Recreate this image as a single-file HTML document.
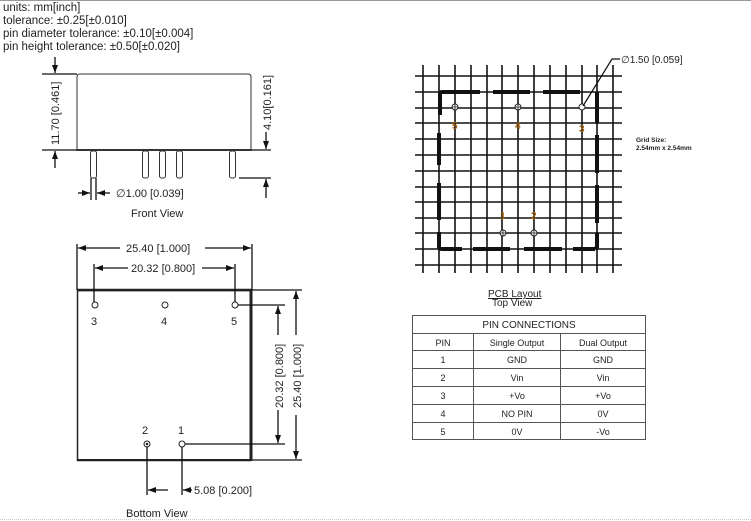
<!DOCTYPE html>
<html><head><meta charset="utf-8"><style>
html,body{margin:0;padding:0;background:#fff;}
svg{display:block;}
text{font-family:"Liberation Sans","DejaVu Sans",sans-serif;fill:#222;}
</style></head><body>
<svg width="751" height="521" viewBox="0 0 751 521" xmlns="http://www.w3.org/2000/svg">
<defs>
<marker id="ar" markerWidth="8" markerHeight="6" refX="8" refY="3" orient="auto" markerUnits="userSpaceOnUse"><path d="M0,0 L8,3 L0,6 z" fill="#111"/></marker>
</defs>
<line x1="0" y1="0.5" x2="751" y2="0.5" stroke="#999" stroke-width="1"/>
<line x1="0" y1="519.5" x2="751" y2="519.5" stroke="#ccc" stroke-width="1" stroke-dasharray="1,1"/>
<g font-size="11.5">
<text x="3" y="11">units: mm[inch]</text>
<text x="3" y="24">tolerance: ±0.25[±0.010]</text>
<text x="3" y="37">pin diameter tolerance: ±0.10[±0.004]</text>
<text x="3" y="50">pin height tolerance: ±0.50[±0.020]</text>
</g>

<!-- Front view -->
<g stroke="#333" fill="none">
<path d="M77,150 L77,77 Q77,74 80,74 L248,74 Q251,74 251,77 L251,150" stroke-width="1"/>
<line x1="76" y1="150" x2="252" y2="150" stroke-width="2"/>
<rect x="90.5" y="151" width="6" height="27" rx="2" stroke-width="1"/>
<rect x="142.5" y="151" width="6" height="27" rx="2"/>
<rect x="159.5" y="151" width="6" height="27" rx="2"/>
<rect x="176.5" y="151" width="6" height="27" rx="2"/>
<rect x="229.5" y="151" width="6" height="27" rx="2"/>
</g>
<g stroke="#111" stroke-width="1.3" fill="none">
<line x1="42" y1="74" x2="77" y2="74"/>
<line x1="42" y1="150" x2="76" y2="150"/>
<line x1="55" y1="57" x2="55" y2="73" marker-end="url(#ar)"/>
<line x1="55" y1="168" x2="55" y2="151" marker-end="url(#ar)"/>
<line x1="252" y1="150" x2="271" y2="150"/>
<line x1="239" y1="178" x2="271" y2="178"/>
<line x1="266" y1="132" x2="266" y2="149" marker-end="url(#ar)"/>
<line x1="266" y1="198" x2="266" y2="179" marker-end="url(#ar)"/>
<line x1="91" y1="178" x2="91" y2="200"/>
<line x1="96" y1="178" x2="96" y2="200"/>
<line x1="78" y1="193" x2="90" y2="193" marker-end="url(#ar)"/>
<line x1="110" y1="193" x2="97" y2="193" marker-end="url(#ar)"/>
</g>
<text x="0" y="0" font-size="11" transform="translate(59,145) rotate(-90)">11.70 [0.461]</text>
<text x="0" y="0" font-size="11" transform="translate(271,130) rotate(-90)">4.10[0.161]</text>
<text x="116" y="197" font-size="11">∅1.00 [0.039]</text>
<text x="131" y="217" font-size="11">Front View</text>

<!-- Bottom view -->
<g stroke="#222" fill="none">
<rect x="77.5" y="290.5" width="173" height="170" stroke-width="1.5"/>
<line x1="77" y1="290" x2="252" y2="290" stroke-width="2.5"/>
<line x1="251" y1="290" x2="251" y2="461" stroke-width="3"/>
<line x1="77" y1="460" x2="252" y2="460" stroke-width="2"/>
<circle cx="95" cy="305" r="3" stroke-width="1"/>
<circle cx="165" cy="305" r="3"/>
<circle cx="235" cy="305" r="3"/>
<circle cx="147" cy="444" r="3"/>
<circle cx="147" cy="444" r="0.8" fill="#222"/>
<circle cx="182" cy="444" r="3"/>
</g>
<g stroke="#111" stroke-width="1.3" fill="none">
<line x1="77" y1="244" x2="77" y2="290"/>
<line x1="252" y1="244" x2="252" y2="290"/>
<line x1="120" y1="248" x2="78" y2="248" marker-end="url(#ar)"/>
<line x1="205" y1="248" x2="251" y2="248" marker-end="url(#ar)"/>
<line x1="94" y1="264" x2="94" y2="302"/>
<line x1="235" y1="264" x2="235" y2="302"/>
<line x1="128" y1="268" x2="95" y2="268" marker-end="url(#ar)"/>
<line x1="202" y1="268" x2="234" y2="268" marker-end="url(#ar)"/>
<line x1="238" y1="305" x2="285" y2="305"/>
<line x1="185" y1="444" x2="285" y2="444"/>
<line x1="252" y1="290" x2="302" y2="290"/>
<line x1="252" y1="460" x2="302" y2="460"/>
<line x1="278" y1="335" x2="278" y2="306" marker-end="url(#ar)"/>
<line x1="278" y1="410" x2="278" y2="443" marker-end="url(#ar)"/>
<line x1="296" y1="335" x2="296" y2="291" marker-end="url(#ar)"/>
<line x1="296" y1="415" x2="296" y2="459" marker-end="url(#ar)"/>
<line x1="147" y1="447" x2="147" y2="495"/>
<line x1="182" y1="447" x2="182" y2="495"/>
<line x1="168" y1="490" x2="148" y2="490" marker-end="url(#ar)"/>
<line x1="192" y1="490" x2="183" y2="490" marker-end="url(#ar)"/>
</g>
<g font-size="11">
<text x="126" y="252">25.40 [1.000]</text>
<text x="131" y="272">20.32 [0.800]</text>
<text x="91" y="325">3</text>
<text x="161" y="325">4</text>
<text x="231" y="325">5</text>
<text x="142" y="434">2</text>
<text x="178" y="434">1</text>
<text x="194" y="494">5.08 [0.200]</text>
<text x="126" y="517">Bottom View</text>
<text x="0" y="0" transform="translate(283,408) rotate(-90)">20.32 [0.800]</text>
<text x="0" y="0" transform="translate(301,408) rotate(-90)">25.40 [1.000]</text>
</g>

<!-- PCB layout grid -->
<g stroke="#111" stroke-width="1.6">
<line x1="423" y1="65" x2="423" y2="273"/><line x1="439" y1="65" x2="439" y2="273"/>
<line x1="455" y1="65" x2="455" y2="273"/><line x1="471" y1="65" x2="471" y2="273"/>
<line x1="487" y1="65" x2="487" y2="273"/><line x1="502" y1="65" x2="502" y2="273"/>
<line x1="518" y1="65" x2="518" y2="273"/><line x1="534" y1="65" x2="534" y2="273"/>
<line x1="550" y1="65" x2="550" y2="273"/><line x1="566" y1="65" x2="566" y2="273"/>
<line x1="582" y1="65" x2="582" y2="273"/><line x1="597" y1="65" x2="597" y2="273"/>
<line x1="613" y1="65" x2="613" y2="273"/>
<line x1="415" y1="76" x2="622" y2="76"/><line x1="415" y1="92" x2="622" y2="92"/>
<line x1="415" y1="108" x2="622" y2="108"/><line x1="415" y1="123" x2="622" y2="123"/>
<line x1="415" y1="139" x2="622" y2="139"/><line x1="415" y1="155" x2="622" y2="155"/>
<line x1="415" y1="171" x2="622" y2="171"/><line x1="415" y1="187" x2="622" y2="187"/>
<line x1="415" y1="202" x2="622" y2="202"/><line x1="415" y1="218" x2="622" y2="218"/>
<line x1="415" y1="233" x2="622" y2="233"/><line x1="415" y1="249" x2="622" y2="249"/>
<line x1="415" y1="265" x2="622" y2="265"/>
</g>
<g stroke="#111" stroke-width="4" fill="none">
<path d="M440,115 L440,94 Q440,92 442,92 L480,92"/>
<line x1="493" y1="92" x2="530" y2="92"/>
<line x1="543" y1="92" x2="580" y2="92"/>
<line x1="439" y1="133" x2="439" y2="165"/>
<line x1="439" y1="183" x2="439" y2="220"/>
<path d="M439,232 L439,247 Q439,249 442,249 L462,249"/>
<line x1="597" y1="92" x2="597" y2="123"/>
<line x1="597" y1="135" x2="597" y2="173"/>
<line x1="597" y1="185" x2="597" y2="223"/>
<path d="M597,233 L597,247 L595,249"/>
<line x1="473" y1="249" x2="510" y2="249"/>
<line x1="524" y1="249" x2="562" y2="249"/>
<line x1="573" y1="249" x2="595" y2="249"/>
</g>
<g stroke="#222" stroke-width="1" fill="#fff">
<circle cx="455" cy="107" r="3"/><circle cx="518" cy="107" r="3"/>
<circle cx="582" cy="107" r="3"/><circle cx="503" cy="233" r="3"/>
<circle cx="534" cy="233" r="3"/>
</g>
<g stroke="#222" stroke-width="0.8">
<line x1="452" y1="107" x2="458" y2="107"/><line x1="455" y1="104" x2="455" y2="110"/>
<line x1="515" y1="107" x2="521" y2="107"/><line x1="518" y1="104" x2="518" y2="110"/>
<line x1="500" y1="233" x2="506" y2="233"/><line x1="503" y1="230" x2="503" y2="236"/>
<line x1="531" y1="233" x2="537" y2="233"/><line x1="534" y1="230" x2="534" y2="236"/>
</g>
<g font-size="10" font-weight="bold">
<text x="452" y="129" style="fill:#a06010">5</text>
<text x="515" y="129" style="fill:#a06010">4</text>
<text x="579" y="132" style="fill:#a06010">3</text>
<text x="500" y="219" style="fill:#a06010">1</text>
<text x="531" y="219" style="fill:#a06010">2</text>
</g>
<polyline points="583,106 612,59 620,59" stroke="#111" stroke-width="1.2" fill="none"/>
<text x="621" y="63" font-size="10">∅1.50 [0.059]</text>
<text x="636" y="142" font-size="6.5" font-weight="bold">Grid Size:</text>
<text x="636" y="150" font-size="6.5" font-weight="bold">2.54mm x 2.54mm</text>
<text x="488" y="297" font-size="10" text-decoration="underline">PCB Layout</text>
<text x="492" y="306" font-size="10">Top View</text>

<!-- Table -->
<g stroke="#555" stroke-width="1" fill="none">
<rect x="412.5" y="315.5" width="233" height="124"/>
<line x1="412" y1="333.5" x2="646" y2="333.5"/>
<line x1="412" y1="350.5" x2="646" y2="350.5"/>
<line x1="412" y1="368.5" x2="646" y2="368.5"/>
<line x1="412" y1="386.5" x2="646" y2="386.5"/>
<line x1="412" y1="404.5" x2="646" y2="404.5"/>
<line x1="412" y1="422.5" x2="646" y2="422.5"/>
<line x1="473.5" y1="333" x2="473.5" y2="440"/>
<line x1="560.5" y1="333" x2="560.5" y2="440"/>
</g>
<g font-size="9" text-anchor="middle">
<text x="529" y="328" font-size="10">PIN CONNECTIONS</text>
<text x="443" y="346">PIN</text><text x="517" y="346">Single Output</text><text x="603" y="346">Dual Output</text>
<text x="443" y="363">1</text><text x="517" y="363">GND</text><text x="603" y="363">GND</text>
<text x="443" y="381">2</text><text x="517" y="381">Vin</text><text x="603" y="381">Vin</text>
<text x="443" y="399">3</text><text x="517" y="399">+Vo</text><text x="603" y="399">+Vo</text>
<text x="443" y="417">4</text><text x="517" y="417">NO PIN</text><text x="603" y="417">0V</text>
<text x="443" y="435">5</text><text x="517" y="435">0V</text><text x="603" y="435">-Vo</text>
</g>
</svg>
</body></html>
